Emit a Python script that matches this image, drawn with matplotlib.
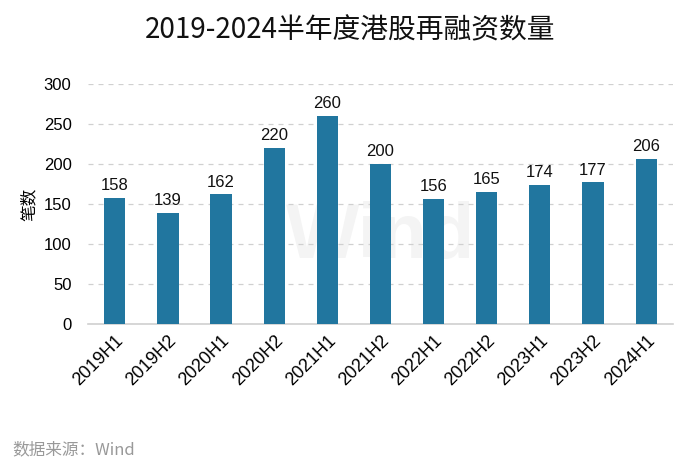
import matplotlib
matplotlib.use("Agg")
from matplotlib import pyplot as plt

periods = ["2019H1", "2019H2", "2020H1", "2020H2", "2021H1", "2021H2",
           "2022H1", "2022H2", "2023H1", "2023H2", "2024H1"]
counts = [158, 139, 162, 220, 260, 200, 156, 165, 174, 177, 206]
yticks = [0, 50, 100, 150, 200, 250, 300]

plt.rcParams['font.family'] = ['Liberation Sans', 'Noto Sans CJK SC', 'DejaVu Sans']

fig = plt.figure(figsize=(7, 4.76), dpi=100)
ax = fig.add_axes([0.126, 0.319, 0.835, 0.505])

x = range(len(periods))
bars = ax.bar(x, counts, width=0.4, color="#21769f", zorder=3)
for b, v in zip(bars, counts):
    ax.text(b.get_x() + b.get_width() / 2, v + 6, str(v), ha="center", va="bottom",
            fontsize=12, color="#111111")

ax.set_xlim(-0.5, len(periods) - 0.5)
ax.set_ylim(0, 300)
ax.set_yticks(yticks)
ax.set_xticks(list(x))
ax.set_xticklabels(periods, rotation=45, ha="right", rotation_mode="anchor", fontsize=13)
ax.tick_params(axis="y", labelsize=12, length=0, pad=12)
ax.tick_params(axis="x", length=0, pad=6)
ax.grid(axis="y", color="#d0d0d0", linestyle=(0, (4, 4)), linewidth=0.9, zorder=0)
for s in ["top", "right", "left"]:
    ax.spines[s].set_visible(False)
ax.spines["bottom"].set_color("#d0d0d0")
ax.spines["bottom"].set_linewidth(1.2)
ax.set_ylabel("笔数", fontsize=12, family=['Noto Sans CJK SC', 'DejaVu Sans'], labelpad=4)

# faint watermark
ax.text(0.5, 0.36, "Wind", transform=ax.transAxes, ha="center", va="center",
        fontsize=56, color="#f4f4f4", fontweight="bold", zorder=1)

fig.text(0.5, 0.937, "2019-2024半年度港股再融资数量", ha="center", va="center",
         fontsize=20, family=['Noto Sans CJK SC', 'DejaVu Sans'], color="#111111")
fig.text(0.018, 0.055, "数据来源：Wind", ha="left", va="center", fontsize=12,
         color="#999999", family=['Noto Sans CJK SC', 'DejaVu Sans'])

fig.savefig("out.png", dpi=100)
